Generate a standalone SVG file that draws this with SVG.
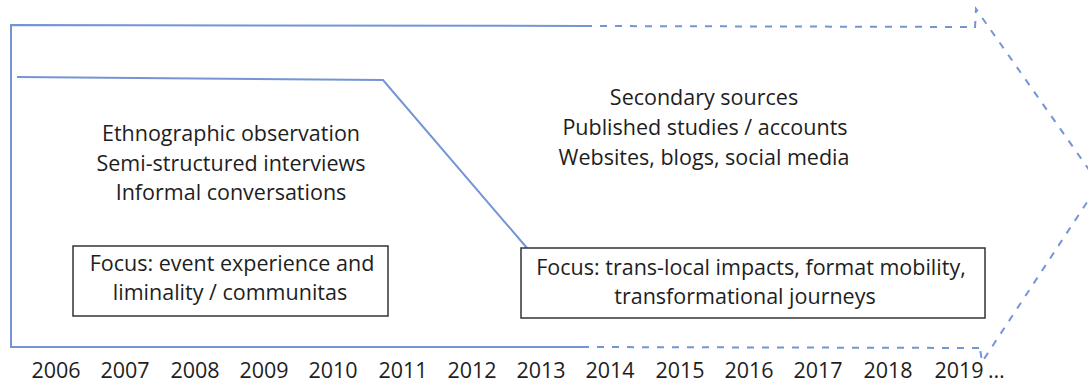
<svg xmlns="http://www.w3.org/2000/svg" width="1088" height="382" viewBox="0 0 1088 382">
<style>
.ln{fill:none;stroke:#7395d6;stroke-width:2;stroke-linejoin:miter}
.ds{fill:none;stroke:#7395d6;stroke-width:2;stroke-dasharray:7 8}
.box{fill:#fff;stroke:#333;stroke-width:1.5}
text{font-family:"Open Sans","Liberation Sans",sans-serif;font-size:21.5px;fill:#1e1e1e;text-anchor:middle}
</style>
<rect width="1088" height="382" fill="#fff"/>
<g id="connectors">
<path class="ln" d="M585,26 L11,25 L11,347 L582,347"/>
<path class="ds" d="M585,26 L975,27"/>
<path class="ds" d="M582,347 L979,348"/>
<path class="ds" d="M975,28 L976,9 L1099,184 L982,362 L980,348"/>
<path class="ln" d="M17,77 L383,80 L527,248"/>
</g>
<g id="left-methods">
<text x="231" y="141">Ethnographic observation</text>
<text x="231" y="171">Semi-structured interviews</text>
<text x="231" y="200">Informal conversations</text>
</g>
<g id="right-methods">
<text x="704" y="105">Secondary sources</text>
<text x="705" y="135">Published studies / accounts</text>
<text x="704" y="165">Websites, blogs, social media</text>
</g>
<g id="left-focus">
<rect class="box" x="73" y="246" width="315" height="70"/>
<text x="232" y="271">Focus: event experience and</text>
<text x="230" y="300">liminality / communitas</text>
</g>
<g id="right-focus">
<rect class="box" x="521" y="248" width="464" height="70"/>
<text x="751" y="275">Focus: trans-local impacts, format mobility,</text>
<text x="745" y="304">transformational journeys</text>
</g>
<g id="years">
<text x="56" y="378">2006</text>
<text x="125" y="378">2007</text>
<text x="195" y="378">2008</text>
<text x="264" y="378">2009</text>
<text x="333" y="378">2010</text>
<text x="403" y="378">2011</text>
<text x="472" y="378">2012</text>
<text x="541" y="378">2013</text>
<text x="610" y="378">2014</text>
<text x="680" y="378">2015</text>
<text x="749" y="378">2016</text>
<text x="818" y="378">2017</text>
<text x="888" y="378">2018</text>
<text x="959" y="378">2019</text>
<text x="988" y="378" style="text-anchor:start">…</text>
</g>
</svg>
